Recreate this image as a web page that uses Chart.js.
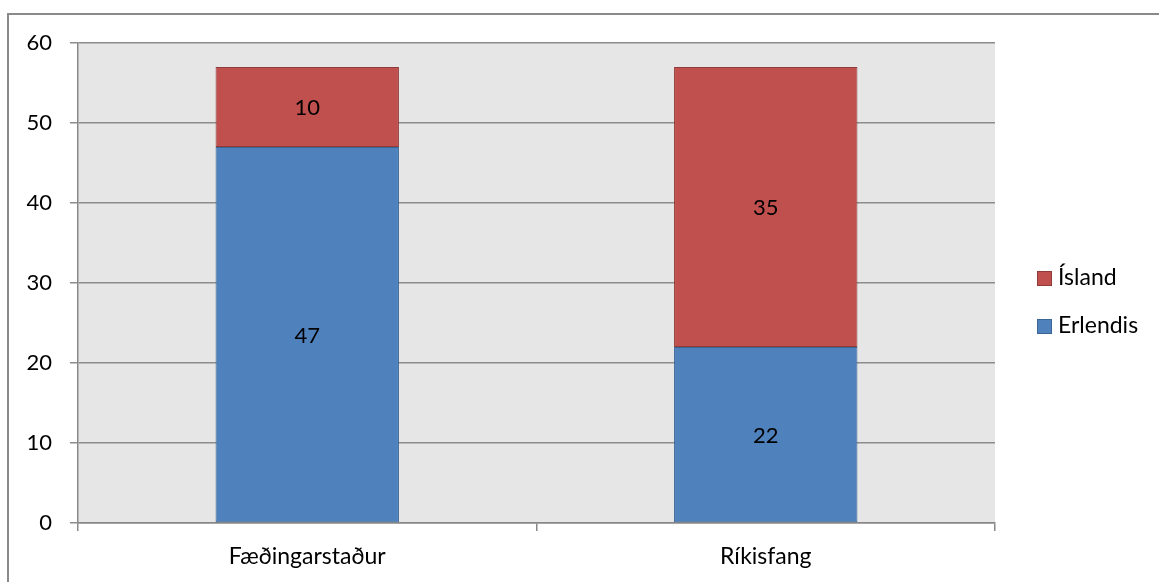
<!DOCTYPE html>
<html>
<head>
<meta charset="utf-8">
<script src="https://cdn.jsdelivr.net/npm/chart.js@4/dist/chart.umd.min.js"></script>
<style>
  html, body { margin: 0; padding: 0; background: #fff; overflow: hidden; }
  #frame { position: absolute; left: 7px; top: 13px; width: 1200px; height: 640px; border: 2px solid #8a8a8a; box-sizing: border-box; }
  #wrap { position: absolute; left: 0; top: 0; width: 1159px; height: 582px; }
</style>
</head>
<body>
<div id="frame"></div>
<div id="wrap"><canvas id="chart"></canvas></div>
<script>
const categories = ['Fæðingarstaður', 'Ríkisfang'];
const erlendis = [47, 22];
const island = [10, 35];
const yTicks = [0, 10, 20, 30, 40, 50, 60];

const fontFamily = 'Lato, "Open Sans", sans-serif';

// grey plot background
const plotBg = {
    id: 'plotBg',
    beforeDraw(chart) {
        const { ctx, chartArea: a } = chart;
        ctx.save();
        ctx.fillStyle = '#e6e6e6';
        ctx.fillRect(a.left, a.top, a.right - a.left, a.bottom - a.top);
        ctx.restore();
    }
};

// numbers in the middle of each segment
const segLabels = {
    id: 'segLabels',
    afterDatasetsDraw(chart) {
        const ctx = chart.ctx;
        ctx.save();
        ctx.font = '22px ' + fontFamily;
        ctx.fillStyle = '#000';
        ctx.textAlign = 'center';
        ctx.textBaseline = 'middle';
        chart.data.datasets.forEach((ds, i) => {
            chart.getDatasetMeta(i).data.forEach((bar, j) => {
                const mid = (bar.y + bar.base) / 2;
                ctx.fillText(ds.data[j], bar.x, mid + 1);
            });
        });
        ctx.restore();
    }
};

// legend drawn on the right, reversed order like the original
const sideLegend = {
    id: 'sideLegend',
    afterDraw(chart) {
        const ctx = chart.ctx;
        const items = chart.data.datasets.slice().reverse();
        ctx.save();
        ctx.font = '23px ' + fontFamily;
        ctx.textBaseline = 'middle';
        ctx.textAlign = 'left';
        items.forEach((ds, k) => {
            const y = 278 + k * 48;
            ctx.fillStyle = ds.backgroundColor;
            ctx.fillRect(1037, y - 7, 15, 15);
            ctx.strokeStyle = ds.borderColor;
            ctx.lineWidth = 1;
            ctx.strokeRect(1037.5, y - 6.5, 14, 14);
            ctx.fillStyle = '#000';
            ctx.fillText(ds.label, 1058, y);
        });
        ctx.restore();
    }
};

new Chart(document.getElementById('chart'), {
    type: 'bar',
    data: {
        labels: categories,
        datasets: [
            { label: 'Erlendis', data: erlendis, backgroundColor: '#4f81bd', borderColor: '#3a6595', borderWidth: 1, borderSkipped: false },
            { label: 'Ísland', data: island, backgroundColor: '#c0504d', borderColor: '#8e3b39', borderWidth: 1, borderSkipped: false }
        ]
    },
    options: {
        responsive: true, maintainAspectRatio: false,
        animation: false,
        layout: { padding: { left: 0, right: 164, top: 43, bottom: 0 } },
        datasets: { bar: { barPercentage: 0.4, categoryPercentage: 1 } },
        scales: {
            x: {
                stacked: true,
                grid: { drawOnChartArea: false, drawTicks: true, tickLength: 8, color: '#888', lineWidth: 1.5 },
                border: { display: true, color: '#888', width: 1.5 },
                ticks: { color: '#000', padding: 12, font: { size: 23, family: fontFamily } },
                afterFit: (s) => { s.height = 59; }
            },
            y: {
                stacked: true,
                min: 0, max: 60,
                afterBuildTicks: (s) => { s.ticks = yTicks.map(v => ({ value: v })); },
                grid: { color: '#8c8c8c', lineWidth: 1.5, tickLength: 8 },
                border: { display: true, color: '#888', width: 1.5 },
                ticks: { color: '#000', padding: 18, font: { size: 22, family: fontFamily } },
                afterFit: (s) => { s.width = 78; }
            }
        },
        plugins: {
            legend: { display: false },
            tooltip: { enabled: false }
        }
    },
    plugins: [plotBg, segLabels, sideLegend]
});
</script>
</body>
</html>
